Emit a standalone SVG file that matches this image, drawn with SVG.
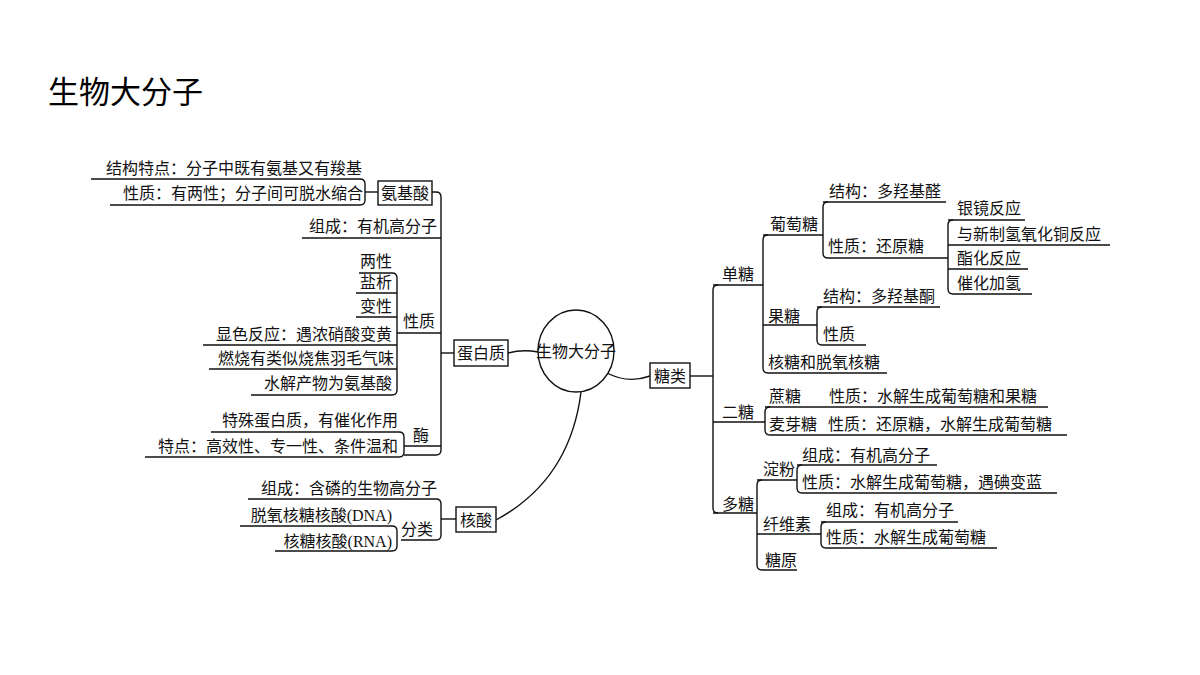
<svg xmlns="http://www.w3.org/2000/svg" width="1200" height="675" viewBox="0 0 1200 675">
<style>
text{font-family:"Liberation Serif","Noto Sans CJK SC",serif;font-size:16px;fill:#111}
.e{text-anchor:end}
.title{font-family:"Noto Sans CJK SC","Noto Sans",sans-serif;font-size:31px;fill:#000}
.l{fill:none;stroke:#111;stroke-width:1.4}
.b{fill:#fff;stroke:#111;stroke-width:1.4}
</style>
<rect width="1200" height="675" fill="#fff"/>
<text class="title" x="48" y="103">生物大分子</text>
<g id="connectors">
<!-- left: amino acid -->
<path class="l" d="M91,179H360Q365,179 365,184V200Q365,205 360,205H110"/>
<path class="l" d="M365,192H378"/>
<path class="l" d="M432,192H436Q441,192 441,197V450Q441,455 436,455H404"/>
<path class="l" d="M302,238H441"/>
<path class="l" d="M359,273H392Q397,273 397,278V390Q397,395 392,395H251"/>
<path class="l" d="M356,293H397M356,317H397M203,345H397M209,369H397"/>
<path class="l" d="M397,333H441"/>
<path class="l" d="M441,353H454"/>
<path class="l" d="M211,432H399Q404,432 404,437V452Q404,457 399,457H145"/>
<path class="l" d="M404,446H441"/>
<!-- nucleic acid -->
<path class="l" d="M248,499H436Q441,499 441,504V535Q441,540 436,540H401"/>
<path class="l" d="M240,526H392Q397,526 397,531V546Q397,551 392,551H275"/>
<path class="l" d="M441,519H456"/>
<!-- center curves -->
<path class="l" d="M508,353Q523,349 538,352"/>
<path class="l" d="M496,520Q570,480 581,392"/>
<path class="l" d="M607,373Q628,384 650,376"/>
<!-- right: sugars -->
<path class="l" d="M690,376H713"/>
<path class="l" d="M718,285Q713,285 713,290V508Q713,513 718,513"/>
<path class="l" d="M713,285H763M713,422H765M713,513H757"/>
<path class="l" d="M768,235Q763,235 763,240V368Q763,373 768,373H887"/>
<path class="l" d="M763,235H823M763,325H817"/>
<path class="l" d="M828,202Q823,202 823,207V253Q823,258 828,258H948"/>
<path class="l" d="M823,202H946"/>
<path class="l" d="M953,220Q948,220 948,225V289Q948,294 953,294H1032"/>
<path class="l" d="M948,220H1025M948,245H1110M948,269H1028M948,258H948"/>
<path class="l" d="M822,307Q817,307 817,312V340Q817,345 822,345H866"/>
<path class="l" d="M817,307H940"/>
<path class="l" d="M770,407Q765,407 765,412V430Q765,435 770,435H1067"/>
<path class="l" d="M765,407H1048"/>
<path class="l" d="M762,480Q757,480 757,485V565Q757,570 762,570H797"/>
<path class="l" d="M757,480H797M757,534H821"/>
<path class="l" d="M802,465Q797,465 797,470V488Q797,493 802,493H1057"/>
<path class="l" d="M797,465H937"/>
<path class="l" d="M826,522Q821,522 821,527V543Q821,548 826,548H997"/>
<path class="l" d="M821,522H958"/>
</g>
<g id="n-center"><ellipse class="b" cx="576" cy="351" rx="38" ry="41"/><text x="576" y="357" text-anchor="middle">生物大分子</text></g>
<g id="n-amino"><rect class="b" x="378" y="181" width="54" height="24"/><text x="405" y="199" text-anchor="middle">氨基酸</text>
<text class="e" x="362" y="174">结构特点：分子中既有氨基又有羧基</text>
<text class="e" x="363" y="199">性质：有两性；分子间可脱水缩合</text></g>
<g id="n-protein"><rect class="b" x="454" y="340" width="54" height="26"/><text x="481" y="359" text-anchor="middle">蛋白质</text>
<text class="e" x="437" y="232">组成：有机高分子</text>
<text x="403" y="327">性质</text>
<text class="e" x="392" y="267">两性</text>
<text class="e" x="392" y="288">盐析</text>
<text class="e" x="392" y="312">变性</text>
<text class="e" x="392" y="340">显色反应：遇浓硝酸变黄</text>
<text class="e" x="394" y="364">燃烧有类似烧焦羽毛气味</text>
<text class="e" x="392" y="389">水解产物为氨基酸</text>
<text x="413" y="441">酶</text>
<text class="e" x="398" y="426">特殊蛋白质，有催化作用</text>
<text class="e" x="398" y="452">特点：高效性、专一性、条件温和</text></g>
<g id="n-nucleic"><rect class="b" x="456" y="507" width="40" height="25"/><text x="476" y="526" text-anchor="middle">核酸</text>
<text class="e" x="437" y="494">组成：含磷的生物高分子</text>
<text x="401" y="535">分类</text>
<text class="e" x="392" y="521">脱氧核糖核酸(DNA)</text>
<text class="e" x="392" y="547">核糖核酸(RNA)</text></g>
<g id="n-sugar"><rect class="b" x="650" y="363" width="40" height="25"/><text x="670" y="382" text-anchor="middle">糖类</text>
<text x="722" y="280">单糖</text>
<text x="770" y="230">葡萄糖</text>
<text x="829" y="197">结构：多羟基醛</text>
<text x="828" y="252">性质：还原糖</text>
<text x="957" y="214">银镜反应</text>
<text x="957" y="240">与新制氢氧化铜反应</text>
<text x="957" y="264">酯化反应</text>
<text x="957" y="289">催化加氢</text>
<text x="768" y="322">果糖</text>
<text x="823" y="302">结构：多羟基酮</text>
<text x="823" y="340">性质</text>
<text x="768" y="368">核糖和脱氧核糖</text>
<text x="722" y="418">二糖</text>
<text x="769" y="402">蔗糖</text>
<text x="829" y="402">性质：水解生成葡萄糖和果糖</text>
<text x="769" y="430">麦芽糖</text>
<text x="828" y="430">性质：还原糖，水解生成葡萄糖</text>
<text x="722" y="510">多糖</text>
<text x="763" y="475">淀粉</text>
<text x="802" y="461">组成：有机高分子</text>
<text x="802" y="488">性质：水解生成葡萄糖，遇碘变蓝</text>
<text x="763" y="530">纤维素</text>
<text x="826" y="516">组成：有机高分子</text>
<text x="826" y="543">性质：水解生成葡萄糖</text>
<text x="765" y="566">糖原</text></g>
</svg>
